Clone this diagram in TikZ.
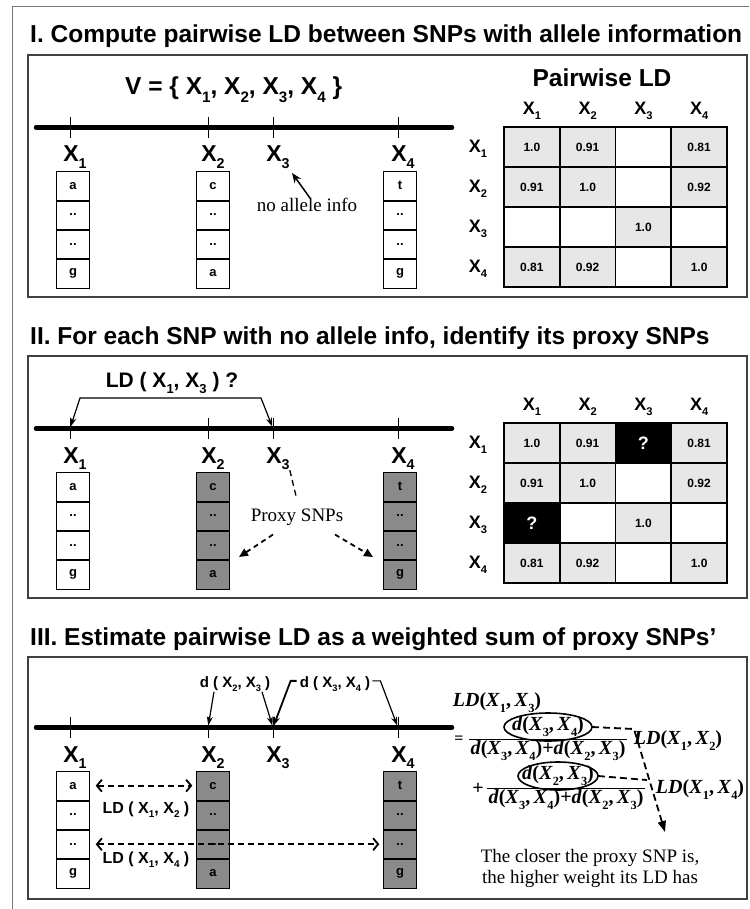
\documentclass[tikz,border=0pt]{standalone}
\usepackage{fontspec}
\setmainfont{Liberation Sans}
\newfontfamily\seriffont{Liberation Serif}
\usetikzlibrary{arrows.meta}

\definecolor{cellgray}{RGB}{231,231,231}
\definecolor{proxygray}{RGB}{138,138,138}
\definecolor{framegray}{RGB}{120,120,120}

% SNP names, upright and italic
\newcommand{\lowsub}[1]{\raisebox{-0.3em}{\scalebox{0.62}{#1}}}
\newcommand{\snp}[1]{X\lowsub{#1}}
\newcommand{\isnp}[1]{\textit{X}\lowsub{#1}}
\newcommand{\dist}[2]{\textit{d}(\isnp{#1},\,\isnp{#2})}
\newcommand{\ldof}[2]{\textit{LD}(\isnp{#1},\,\isnp{#2})}

\tikzset{
  paneltitle/.style={anchor=base west, inner sep=0pt, font=\bfseries\fontsize{24.5}{26}\selectfont},
  panelbox/.style={draw=black!75, line width=1.2pt},
  chrom/.style={line width=4.5pt, line cap=round},
  snptick/.style={line width=0.9pt},
  snplabel/.style={anchor=base, inner sep=0pt, font=\bfseries\fontsize{23}{23}\selectfont},
  allele/.style={draw, line width=0.9pt, minimum width=32.5pt, minimum height=29.3pt, inner sep=0pt, font=\bfseries\fontsize{13}{13}\selectfont},
  rowsep/.style={line width=1.8pt},
  hdr/.style={inner sep=0pt, font=\bfseries\fontsize{18}{18}\selectfont},
  ldcell/.style={fill=cellgray, minimum width=55.75pt, minimum height=40pt, inner sep=0pt, font=\bfseries\fontsize{12}{12}\selectfont},
  askcell/.style={ldcell, fill=black, text=white, font=\bfseries\fontsize{18}{18}\selectfont},
  ldgrid/.style={line width=1.8pt, line cap=rect},
  note/.style={inner sep=0pt, font=\seriffont\fontsize{19}{21}\selectfont},
  pointer/.style={-{Stealth[length=10pt,width=8pt]}, line width=1.5pt},
  ldlabel/.style={anchor=base, inner sep=0pt, font=\bfseries\fontsize{21}{21}\selectfont},
  dlabel/.style={anchor=base, inner sep=0pt, font=\bfseries\fontsize{15}{15}\selectfont},
  pairlabel/.style={anchor=base, inner sep=0pt, font=\bfseries\fontsize{16}{16}\selectfont},
  bracket/.style={{Stealth[length=9pt,width=6pt]}-{Stealth[length=9pt,width=6pt]}, line width=1.2pt, shorten <=2pt, shorten >=2pt},
  proxydash/.style={dash pattern=on 6pt off 4pt, line width=1.3pt, shorten >=12pt},
  proxyarrow/.style={-{Triangle[length=9pt,width=8pt]}, dash pattern=on 5pt off 4pt, line width=1.8pt},
  dpointer/.style={-{Stealth[length=9pt,width=6pt]}, line width=1.2pt, shorten >=2pt},
  ldpair/.style={{Straight Barb[length=5pt,width=12pt]}-{Straight Barb[length=5pt,width=12pt]}, dash pattern=on 6pt off 4pt, line width=1.8pt, shorten <=6pt, shorten >=4pt},
  formula/.style={inner sep=1pt, font=\seriffont\bfseries\fontsize{20}{20}\selectfont},
  fracline/.style={line width=0.9pt},
  ring/.style={line width=1.6pt},
  weightdash/.style={-{Triangle[length=11pt,width=8pt]}, dash pattern=on 7pt off 4pt, line width=1.8pt}
}

\begin{document}
\begin{tikzpicture}[x=1pt,y=-1pt]
  \useasboundingbox (0,0) rectangle (749,909);
  % outer frame, only top and left edge on the page
  \draw[framegray, line width=1pt] (749,7) -- (12,7) -- (12,909);

  % titles and panel frames
  \node[paneltitle] (t1) at (30,43) {I. Compute pairwise LD between SNPs with allele information};
  \node[paneltitle] (t2) at (30,344) {II. For each SNP with no allele info, identify its proxy SNPs};
  \node[paneltitle] (t3) at (30,645) {III. Estimate pairwise LD as a weighted sum of proxy SNPs’};
  \draw[panelbox] (28,55) rectangle (747,297);
  \draw[panelbox] (28,356) rectangle (747,598);
  \draw[panelbox] (28,657) rectangle (747,899);

  % chromosome and SNP positions, one per panel
  \foreach \pn/\dy in {a/0,b/301,c/600}{
    \begin{scope}[yshift={-\dy pt}]
      \draw[chrom] (36,127.5) -- (452,127.5);
      \foreach \i/\x in {1/70,2/208,3/273,4/398}{
        \draw[snptick] (\x,117) -- (\x,138);
        \coordinate (\pn-t\i) at (\x,127.5);
        \node[snplabel] (\pn-x\i) at (\x+5,162) {\snp{\i}};
      }
    \end{scope}
  }

  % allele columns
  \foreach \pn/\dy/\fillc in {a/0/white,b/301/proxygray,c/600/proxygray}{
    \begin{scope}[yshift={-\dy pt}]
      \foreach \row/\txt in {1/a,2/..,3/..,4/g}
        \node[allele] (\pn-a1\row) at (73,156.35+29.3*\row) {\txt};
      \foreach \row/\txt in {1/c,2/..,3/..,4/a}
        \node[allele, fill=\fillc] (\pn-a2\row) at (213,156.35+29.3*\row) {\txt};
      \foreach \row/\txt in {1/t,2/..,3/..,4/g}
        \node[allele, fill=\fillc] (\pn-a4\row) at (400,156.35+29.3*\row) {\txt};
      \foreach \col in {1,2,4}
        \foreach \row in {1,2,3}
          \draw[rowsep] (\pn-a\col\row.south west) -- (\pn-a\col\row.south east);
    \end{scope}
  }

  % LD matrices
  \foreach \pn/\dy in {a/0,b/296}{
    \begin{scope}[yshift={-\dy pt}]
      \foreach \col in {1,...,4}
        \node[hdr] (\pn-h\col) at (504+55.75*\col-27.875,111) {\snp{\col}};
      \foreach \row in {1,...,4}
        \node[hdr] (\pn-r\row) at (478,109+40*\row) {\snp{\row}};
      \foreach \row/\col/\val in {1/1/1.0,1/2/0.91,1/4/0.81,2/1/0.91,2/2/1.0,2/4/0.92,3/3/1.0,4/1/0.81,4/2/0.92,4/4/1.0}
        \node[ldcell] (\pn-m\row\col) at (504+55.75*\col-27.875,107+40*\row) {\val};
    \end{scope}
  }
  \node[askcell] (b-m13) at (643.375,443) {?};
  \node[askcell] (b-m31) at (531.875,523) {?};
  \foreach \dy in {0,296}{
    \begin{scope}[yshift={-\dy pt}]
      \foreach \n in {0,...,4}{
        \draw[ldgrid] (504+55.75*\n,127) -- (504+55.75*\n,287);
        \draw[ldgrid] (504,127+40*\n) -- (727,127+40*\n);
      }
    \end{scope}
  }

  % panel I
  \node[paneltitle, anchor=base west] (a-set) at (125,95) {V = \{ \snp{1}, \snp{2}, \snp{3}, \snp{4} \}};
  \node[paneltitle, anchor=base] (a-pw) at (602,87) {Pairwise LD};
  \node[note] (a-noinfo) at (307,205) {no allele info};
  \coordinate (a-noinfotip) at (292,173);
  \draw[pointer] ([xshift=3pt]a-noinfo.north) -- (a-noinfotip);

  % panel II
  \node[ldlabel] (b-ld13) at (172,387) {LD ( \snp{1}, \snp{3} ) ?};
  \draw[bracket] (b-t1) -- (80,398) -- (261,398) -- (b-t3);
  \node[note] (b-proxy) at (297,517) {Proxy SNPs};
  \draw[proxydash] (b-x3.south east) -- ([xshift=2pt]b-proxy.north);
  \coordinate (b-to2) at (239,557);
  \coordinate (b-to4) at (373,557);
  \draw[proxyarrow] ([xshift=-24pt,yshift=-9pt]b-proxy.south) -- (b-to2);
  \draw[proxyarrow] ([xshift=38pt,yshift=-9pt]b-proxy.south) -- (b-to4);

  % panel III, distances
  \node[dlabel] (c-d23) at (235,687) {d ( \snp{2}, \snp{3} )};
  \node[dlabel] (c-d34) at (335,687) {d ( \snp{3}, \snp{4} )};
  \draw[dpointer] ([xshift=-21pt]c-d23.south) -- (c-t2);
  \draw[dpointer] ([xshift=27pt]c-d23.south) -- (c-t3);
  \draw[dpointer, line width=1.8pt] ([xshift=-3pt,yshift=3pt]c-d34.west) -- ++(-6,0) -- (c-t3);
  \draw[dpointer] ([xshift=2pt,yshift=3pt]c-d34.east) -- ++(8,0) -- (c-t4);

  % panel III, proxy LD values
  \draw[ldpair] (c-a11.east) -- (c-a21.west);
  \draw[ldpair] (c-a13.east) -- (c-a43.west);
  \node[pairlabel] (c-ld12) at (146,813) {LD ( \snp{1}, \snp{2} )};
  \node[pairlabel] (c-ld14) at (146,863) {LD ( \snp{1}, \snp{4} )};

  % panel III, weighted sum
  \node[formula] (c-ld13) at (497,703) {\ldof{1}{3}};
  \node[formula, font=\seriffont\bfseries\fontsize{16}{16}\selectfont] (c-eq) at (459,740) {=};
  \node[formula] (c-num1) at (548,727) {\dist{3}{4}};
  \node[formula] (c-den1) at (548,751) {\dist{3}{4}+\dist{2}{3}};
  \draw[fracline] (c-den1.north west) -- (c-den1.north east);
  \node[formula] (c-ld12f) at (678,741) {\ldof{1}{2}};
  \node[formula] (c-plus) at (478,789) {+};
  \node[formula] (c-num2) at (558,776) {\dist{2}{3}};
  \node[formula] (c-den2) at (566,800) {\dist{3}{4}+\dist{2}{3}};
  \draw[fracline] (c-den2.north west) -- (c-den2.north east);
  \node[formula] (c-ld14f) at (700,790) {\ldof{1}{4}};
  \draw[ring] (c-num1) ellipse [x radius=44pt, y radius=14pt];
  \draw[ring] (c-num2) ellipse [x radius=40pt, y radius=14pt];
  \coordinate (c-bend) at (634,729);
  \coordinate (c-wtip) at (665,832);
  \draw[weightdash] ([xshift=44pt]c-num1.center) -- (c-bend) -- (c-wtip);
  \draw[weightdash, -] ([xshift=40pt]c-num2.center) -- (647,780);
  \node[note, align=center] (c-note) at (590,868) {The closer the proxy SNP is,\\the higher weight its LD has};
\end{tikzpicture}
\end{document}
